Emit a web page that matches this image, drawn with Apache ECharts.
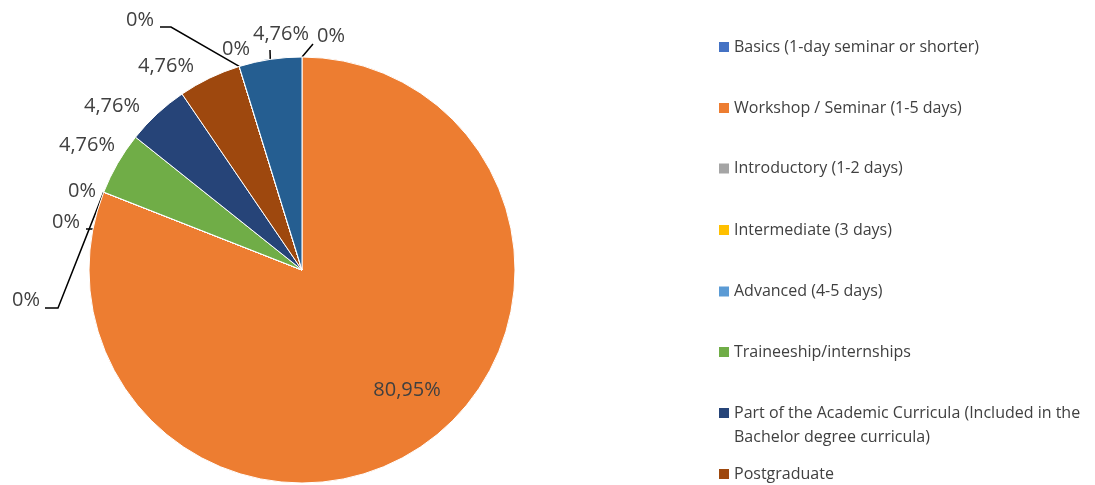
<!DOCTYPE html>
<html>
<head>
<meta charset="utf-8">
<script src="https://cdn.jsdelivr.net/npm/echarts@6/dist/echarts.min.js"></script>
<style>
  html, body { margin: 0; padding: 0; background: #fff; }
  #chart { width: 1095px; height: 485px; }
</style>
</head>
<body>
<div id="chart"></div>
<script>
// ---- data ----
const categories = [
  'Basics (1-day seminar or shorter)',
  'Workshop / Seminar (1-5 days)',
  'Introductory (1-2 days)',
  'Intermediate (3 days)',
  'Advanced (4-5 days)',
  'Traineeship/internships',
  'Part of the Academic Curricula (Included in the Bachelor degree curricula)',
  'Postgraduate',
  'Category 9',
  'Category 10',
  'Category 11'
];
const values = [0, 80.95, 0, 0, 0, 4.76, 4.76, 4.76, 0, 0, 4.76];
const legendItems = categories.slice(0, 8);

// ---- styles / layout ----
const colors = ['#4472C4', '#ED7D31', '#A5A5A5', '#FFC000', '#5B9BD5', '#70AD47',
                '#264478', '#9E480E', '#636363', '#997300', '#255E91'];
const CX = 302, CY = 270, R = 213;
const FONT = 'Open Sans';
// label text centres and leader-line bends (layout only)
const labelPlace = [
  { x: 331, y: 36, line: [[313, 44]] },
  { x: 407, y: 390 },
  { x: 82, y: 191 },
  { x: 66, y: 222, line: [[98, 229], [86, 229]] },
  { x: 26, y: 300, line: [[58, 308], [45, 308]] },
  { x: 87, y: 145 },
  { x: 112, y: 106 },
  { x: 166, y: 66 },
  { x: 140, y: 20, line: [[171, 27], [160, 27]] },
  { x: 236, y: 49 },
  { x: 281, y: 34, line: [[270, 50]] }
];
const legendY = [47, 108, 168.5, 230, 291.5, 352, 413, 474];

const total = values.reduce((a, b) => a + b, 0);
function edgePoint(i) {
  let start = 0;
  for (let k = 0; k < i; k++) start += values[k];
  const mid = (start + values[i] / 2) / total * 2 * Math.PI;
  return [CX + R * Math.sin(mid), CY - R * Math.cos(mid)];
}

const chart = echarts.init(document.getElementById('chart'));

const legends = legendItems.map((name, i) => {
  const twoLine = name.length > 40;
  return {
    orient: 'vertical',
    left: 719,
    top: twoLine ? legendY[i] - 36 : legendY[i] - 11.5,
    padding: 0,
    itemWidth: 10,
    itemHeight: 10,
    icon: 'rect',
    itemStyle: { borderWidth: 0 },
    selectedMode: false,
    data: [name],
    formatter: twoLine ? '\nPart of the Academic Curricula (Included in the\nBachelor degree curricula)' : '{name}',
    textStyle: {
      fontFamily: FONT,
      fontSize: 16,
      color: '#404040',
      lineHeight: twoLine ? 24 : 23
    }
  };
});

chart.setOption({
  animation: false,
  color: colors,
  legend: legends,
  series: [{
    type: 'pie',
    center: [CX, CY],
    radius: R,
    startAngle: 90,
    clockwise: true,
    avoidLabelOverlap: false,
    stillShowZeroSum: true,
    itemStyle: { borderColor: '#fff', borderWidth: 1 },
    label: {
      show: true,
      position: 'outside',
      fontFamily: FONT,
      fontSize: 20,
      color: '#404040',
      formatter: p => p.value === 0 ? '0%' : p.value.toFixed(2).replace('.', ',') + '%'
    },
    labelLine: {
      show: true,
      lineStyle: { color: '#000', width: 1.5 }
    },
    emphasis: { disabled: true },
    labelLayout: function (params) {
      const i = params.dataIndex;
      const p = labelPlace[i];
      const res = { x: p.x, y: p.y, align: 'center', verticalAlign: 'middle' };
      if (p.line) {
        const pts = [edgePoint(i)].concat(p.line);
        while (pts.length < 3) pts.push(pts[pts.length - 1]);
        res.labelLinePoints = pts;
      }
      return res;
    },
    data: categories.map((name, i) => ({
      name: name,
      value: values[i],
      labelLine: { show: !!labelPlace[i].line }
    }))
  }]
});
</script>
</body>
</html>
